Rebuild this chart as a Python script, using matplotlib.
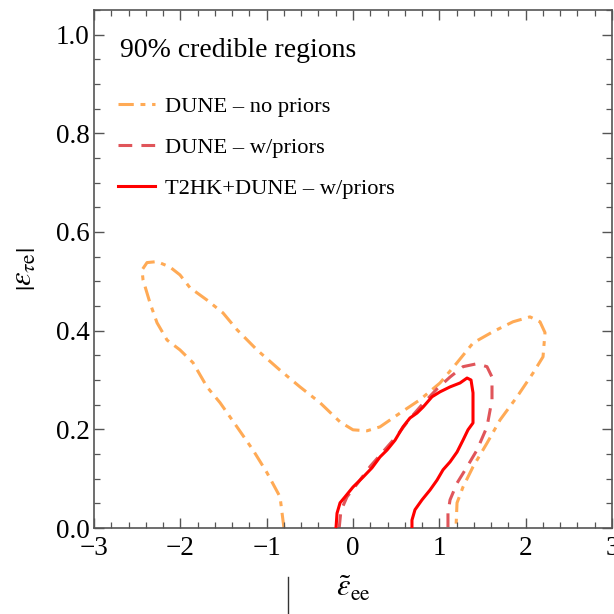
import matplotlib
matplotlib.use("Agg")
import matplotlib.pyplot as plt
from matplotlib.lines import Line2D
from matplotlib.ticker import MultipleLocator, FuncFormatter

plt.rcParams["font.family"] = ["Liberation Serif", "DejaVu Serif"]
plt.rcParams["mathtext.fontset"] = "stix"

# 90% credible contours in the (eps_ee, |eps_tau_e|) plane
dune_nopri_x = [-0.80, -0.845, -0.996, -1.158, -1.344, -1.540, -1.691, -1.853, -2.004, -2.154,
                -2.270, -2.351, -2.432, -2.444, -2.386, -2.270, -2.120, -2.004, -1.888, -1.691,
                -1.506, -1.344, -1.112, -0.846, -0.614, -0.382, -0.150, 0.0, 0.162, 0.313,
                0.545, 0.776, 1.008, 1.205, 1.390, 1.622, 1.853, 2.050, 2.166, 2.224,
                2.201, 2.085, 1.900, 1.703, 1.552, 1.390, 1.274, 1.205, 1.193]
dune_nopri_y = [0.0, 0.063, 0.112, 0.158, 0.205, 0.254, 0.286, 0.335, 0.361, 0.381,
                0.416, 0.456, 0.503, 0.523, 0.538, 0.540, 0.529, 0.513, 0.487, 0.462,
                0.436, 0.402, 0.361, 0.320, 0.286, 0.254, 0.215, 0.199, 0.197, 0.205,
                0.233, 0.260, 0.294, 0.335, 0.375, 0.398, 0.418, 0.428, 0.418, 0.396,
                0.347, 0.314, 0.266, 0.219, 0.172, 0.124, 0.083, 0.051, 0.0]

dune_pri_x = [-0.16, -0.14, -0.07, 0.05, 0.20, 0.35, 0.50, 0.65, 0.80, 0.973,
              1.124, 1.274, 1.436, 1.552, 1.610, 1.610, 1.552, 1.436, 1.321, 1.205,
              1.124, 1.100, 1.100]
dune_pri_y = [0.0, 0.035, 0.063, 0.090, 0.125, 0.155, 0.185, 0.220, 0.250, 0.282,
              0.306, 0.327, 0.333, 0.327, 0.306, 0.260, 0.205, 0.158, 0.124, 0.091,
              0.057, 0.030, 0.0]

combo_x = [-0.197, -0.185, -0.150, -0.093, 0.0, 0.116, 0.220, 0.313, 0.394, 0.487,
           0.579, 0.660, 0.741, 0.811, 0.915, 1.008, 1.124, 1.240, 1.321, 1.367,
           1.390, 1.390, 1.390, 1.332, 1.274, 1.205, 1.124, 1.043, 0.973, 0.892,
           0.799, 0.718, 0.683, 0.683]
combo_y = [0.0, 0.030, 0.051, 0.063, 0.083, 0.103, 0.122, 0.144, 0.158, 0.178,
           0.205, 0.223, 0.233, 0.245, 0.266, 0.276, 0.286, 0.294, 0.304, 0.300,
           0.274, 0.233, 0.213, 0.199, 0.178, 0.154, 0.134, 0.118, 0.097, 0.077,
           0.057, 0.037, 0.016, 0.0]

labels = ["DUNE \u2013 no priors", "DUNE \u2013 w/priors", "T2HK+DUNE \u2013 w/priors"]
colors = ["#FFAA55", "#E0555A", "#FF0000"]

fig = plt.figure(figsize=(6.14, 6.14), dpi=100)
ax = fig.add_axes([94 / 614, 86 / 614, 518 / 614, 518 / 614])

ax.plot(dune_nopri_x, dune_nopri_y, color=colors[0], lw=2.2,
        dashes=(5, 2.2, 1.6, 2.2), label=labels[0], zorder=1)
ax.plot(dune_pri_x, dune_pri_y, color=colors[1], lw=2.2,
        dashes=(4.5, 3), label=labels[1], zorder=2)
ax.plot(combo_x, combo_y, color=colors[2], lw=2.2, label=labels[2], zorder=3)

ax.set_xlim(-3, 3)
ax.set_ylim(0, 1.05)
ax.xaxis.set_major_locator(MultipleLocator(1))
ax.xaxis.set_minor_locator(MultipleLocator(0.2))
ax.yaxis.set_major_locator(MultipleLocator(0.2))
ax.yaxis.set_minor_locator(MultipleLocator(0.05))
ax.xaxis.set_major_formatter(FuncFormatter(lambda v, p: f"{v:.0f}".replace("-", "\u2212")))
ax.yaxis.set_major_formatter(FuncFormatter(lambda v, p: f"{v:.1f}"))

grey = "#555555"
for s in ax.spines.values():
    s.set_color(grey)
    s.set_linewidth(1.2)
ax.tick_params(which="both", direction="in", top=True, right=True, colors=grey,
               labelcolor="black", labelsize=19.5)
ax.tick_params(which="major", length=7, width=1.0)
ax.tick_params(which="minor", length=4, width=0.9)
ax.tick_params(axis="x", pad=6)
ax.tick_params(axis="y", pad=3)

ax.set_xlabel(r"$\tilde{\varepsilon}_{\rm ee}$", fontsize=22, labelpad=10)
ax.set_ylabel(r"$\left|\varepsilon_{\tau \rm e}\right|$", fontsize=22, labelpad=12)

ax.text(0.050, 0.921, "90% credible regions", transform=ax.transAxes,
        fontsize=20, ha="left", va="center")
ax.legend(loc="upper left", bbox_to_anchor=(0.046, 0.834), frameon=False,
          fontsize=16.2, borderpad=0, borderaxespad=0,
          handlelength=1.65, handletextpad=0.45, labelspacing=0.91)

fig.add_artist(Line2D([288 / 614, 288 / 614], [0.0, 37 / 614], transform=fig.transFigure,
                      color="#333333", lw=1.0))

fig.savefig("out.png", dpi=100)
